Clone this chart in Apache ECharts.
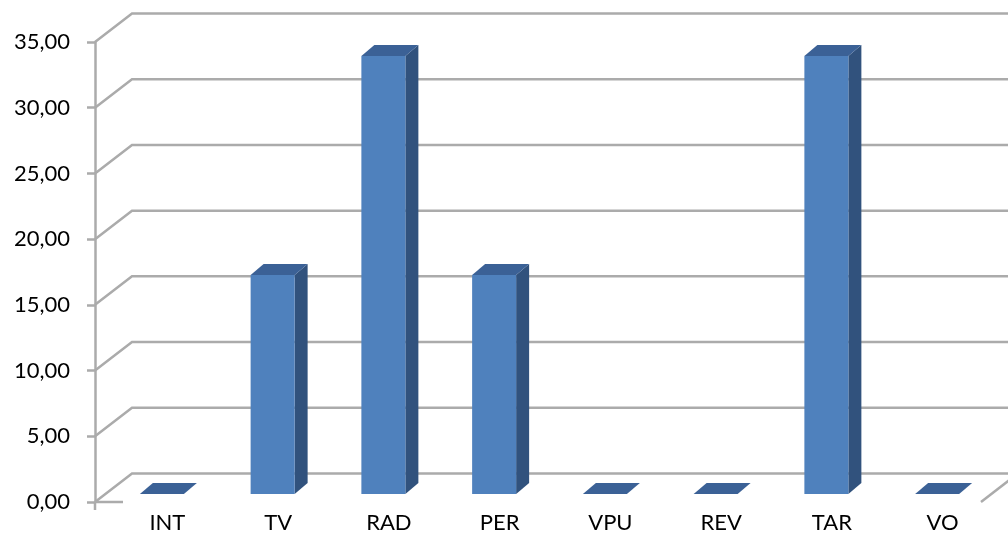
<!DOCTYPE html>
<html>
<head>
<meta charset="utf-8">
<script src="https://cdn.jsdelivr.net/npm/echarts@6/dist/echarts.min.js"></script>
<style>
  html, body { margin: 0; padding: 0; background: #ffffff; }
  #chart { width: 1008px; height: 534px; }
</style>
</head>
<body>
<div id="chart"></div>
<script>
// Categories along the floor and their shares (percent)
const categories = ['INT', 'TV', 'RAD', 'PER', 'VPU', 'REV', 'TAR', 'VO'];
const shares = [0, 16.67, 33.33, 16.67, 0, 0, 33.33, 0];
// Value-axis ticks (also used for the gridlines on the back wall)
const yTicks = [0, 5, 10, 15, 20, 25, 30, 35];

// Pseudo-3D geometry
const WALL_DX = 37, WALL_DY = -28.5;   // depth of the chart floor / back wall
const BAR_OFF_X = 11.5, BAR_OFF_Y = -8; // bar front face sits slightly inside the floor
const BAR_W = 44, BAR_DX = 13, BAR_DY = -11; // bar width and bar depth
const GRID_COLOR = '#ababab';
const GRID_W = 2.5;

const chart = echarts.init(document.getElementById('chart'), null, { renderer: 'canvas' });

function fmt(v) { return v.toFixed(2).replace('.', ','); }

// Back-wall gridlines: diagonal from the front axis to the wall, then across the wall
function renderGridline(params, api) {
  const v = api.value(1);
  const cs = params.coordSys;
  const y = api.coord([0, v])[1];
  const x0 = cs.x;
  const x1 = cs.x + cs.width;
  const children = [{
    type: 'polyline',
    shape: { points: [[x0, y], [x0 + WALL_DX, y + WALL_DY], [x1 + WALL_DX + 40, y + WALL_DY]] },
    style: { stroke: GRID_COLOR, lineWidth: GRID_W, fill: null }
  }];
  if (v === 0) {
    // front edge of the floor near the axis, the axis tick below it, and the floor's right edge
    children.push({
      type: 'line', shape: { x1: x0, y1: y, x2: x0 + 28, y2: y },
      style: { stroke: GRID_COLOR, lineWidth: GRID_W }
    });
    children.push({
      type: 'line', shape: { x1: x0, y1: y, x2: x0, y2: y + 8 },
      style: { stroke: GRID_COLOR, lineWidth: GRID_W }
    });
    children.push({
      type: 'line', shape: { x1: x1, y1: y, x2: x1 + WALL_DX, y2: y + WALL_DY },
      style: { stroke: GRID_COLOR, lineWidth: GRID_W }
    });
  }
  return { type: 'group', children: children };
}

// 3D columns: front face, top face and right side face
function renderBar(params, api) {
  const i = api.value(0);
  const v = api.value(1);
  const base = api.coord([i, 0]);
  const top = api.coord([i, v]);
  const cx = base[0] + BAR_OFF_X;
  const yb = base[1] + BAR_OFF_Y;
  const yt = top[1] + BAR_OFF_Y;
  const L = cx - BAR_W / 2, R = cx + BAR_W / 2;
  const children = [];
  if (yb - yt > 0.5) {
    children.push({
      type: 'polygon',
      shape: { points: [[R, yt], [R + BAR_DX, yt + BAR_DY], [R + BAR_DX, yb + BAR_DY], [R, yb]] },
      style: { fill: '#31527d' }
    });
    children.push({
      type: 'rect',
      shape: { x: L, y: yt, width: BAR_W, height: yb - yt },
      style: { fill: '#4f81bd' }
    });
  }
  children.push({
    type: 'polygon',
    shape: { points: [[L, yt], [R, yt], [R + BAR_DX, yt + BAR_DY], [L + BAR_DX, yt + BAR_DY]] },
    style: { fill: '#3b6196' }
  });
  return { type: 'group', children: children };
}

chart.setOption({
  animation: false,
  backgroundColor: '#ffffff',
  grid: { left: 95, right: 27, top: 42, bottom: 32, containLabel: false },
  xAxis: {
    type: 'category',
    data: categories,
    axisLine: { show: false },
    axisTick: { show: false },
    splitLine: { show: false },
    axisLabel: {
      color: '#000000',
      fontFamily: 'Lato',
      fontSize: 22,
      margin: 10,
      padding: [0, 0, 0, 34]
    }
  },
  yAxis: {
    type: 'value',
    min: 0,
    max: 35,
    interval: 5,
    axisLine: { show: true, lineStyle: { color: GRID_COLOR, width: GRID_W } },
    axisTick: { show: true, length: 8, lineStyle: { color: GRID_COLOR, width: GRID_W } },
    splitLine: { show: false },
    axisLabel: {
      color: '#000000',
      fontFamily: 'Lato',
      fontSize: 22,
      margin: 25,
      padding: [11, 0, 0, 0],
      formatter: fmt
    }
  },
  series: [
    {
      type: 'custom',
      name: 'grid',
      z: 1,
      silent: true,
      clip: false,
      renderItem: renderGridline,
      data: yTicks.map(t => [0, t])
    },
    {
      type: 'custom',
      name: 'shares',
      z: 3,
      clip: false,
      renderItem: renderBar,
      data: shares.map((v, i) => [i, v])
    }
  ]
});
</script>
</body>
</html>
